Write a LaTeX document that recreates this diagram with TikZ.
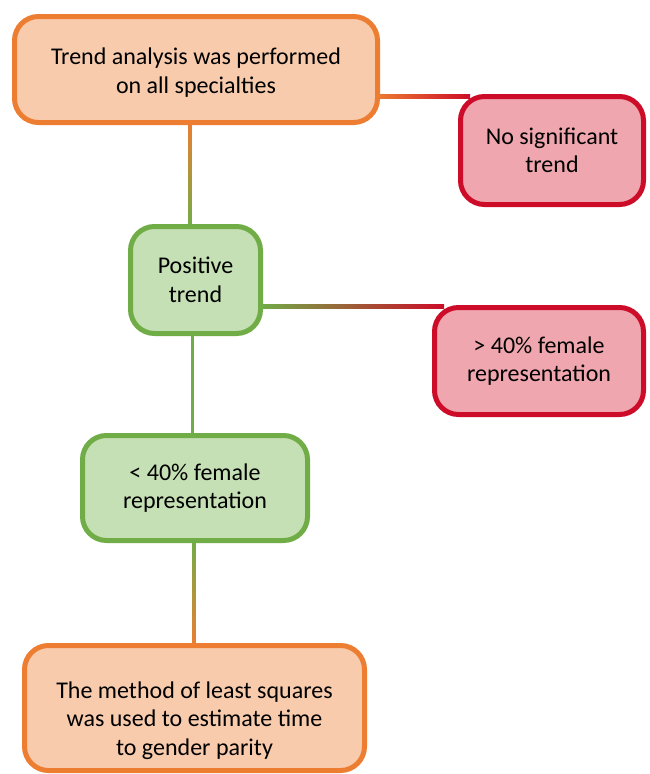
\documentclass[tikz,border=0pt]{standalone}
\usepackage{fontspec}
\setmainfont{Carlito}
\usetikzlibrary{backgrounds,calc}
\definecolor{oBord}{RGB}{237,125,49}
\definecolor{oFill}{RGB}{248,203,173}
\definecolor{gBord}{RGB}{112,173,71}
\definecolor{gFill}{RGB}{197,224,180}
\definecolor{rBord}{RGB}{204,12,40}
\definecolor{rFill}{RGB}{239,166,174}
\tikzset{
  box/.style={rounded corners=24pt, line width=5pt, align=center, inner sep=0pt,
    font=\fontsize{24}{28.5}\selectfont},
  obox/.style={box, draw=oBord, fill=oFill},
  gbox/.style={box, draw=gBord, fill=gFill},
  rbox/.style={box, draw=rBord, fill=rFill},
}
\begin{document}
\begin{tikzpicture}[x=1pt,y=-1pt]
\useasboundingbox (0,0) rectangle (649,774);
\node[obox, minimum width=363pt, minimum height=106pt] (top) at (196,69.5)
  {\rule{0pt}{23pt}Trend analysis was performed\\on all specialties};
\node[rbox, minimum width=183pt, minimum height=108pt] (nst) at (552,150.5)
  {No significant\\trend};
\node[gbox, minimum width=130pt, minimum height=107pt] (pos) at (195.5,280)
  {Positive\\trend};
\node[rbox, minimum width=209pt, minimum height=107pt] (gt) at (539,361)
  {> 40\% female\\representation};
\node[gbox, minimum width=225pt, minimum height=105pt] (lt) at (195,488)
  {< 40\% female\\representation};
\node[obox, minimum width=340pt, minimum height=125pt] (ls) at (194.5,708)
  {\rule{0pt}{42pt}The method of least squares\\was used to estimate time\\to gender parity};
\begin{scope}[on background layer]
  \fill[white] (0,0) rectangle (649,774);
  % top -> no significant trend
  \shade[left color=oBord, right color=rBord]
    ($(top.east |- nst.north)+(-4,0)$) rectangle ($(nst.north west)+(12,4)$);
  % top -> positive
  \shade[top color=oBord, bottom color=gBord]
    ($(top.south)+(-8,-3)$) rectangle ($(pos.north)+(-4,3)$);
  % positive -> > 40%
  \shade[left color=gBord, right color=rBord]
    ($(pos.east |- gt.north)+(-4,-0.5)$) rectangle ($(gt.north west)+(12,3.5)$);
  % positive -> < 40%
  \fill[gBord]
    ($(pos.south)+(-5,-3)$) rectangle ($(lt.north)+(-1,3)$);
  % < 40% -> least squares
  \shade[top color=gBord, bottom color=oBord]
    ($(lt.south)+(-3,-3)$) rectangle ($(ls.north)+(1,3)$);
\end{scope}
\end{tikzpicture}
\end{document}
